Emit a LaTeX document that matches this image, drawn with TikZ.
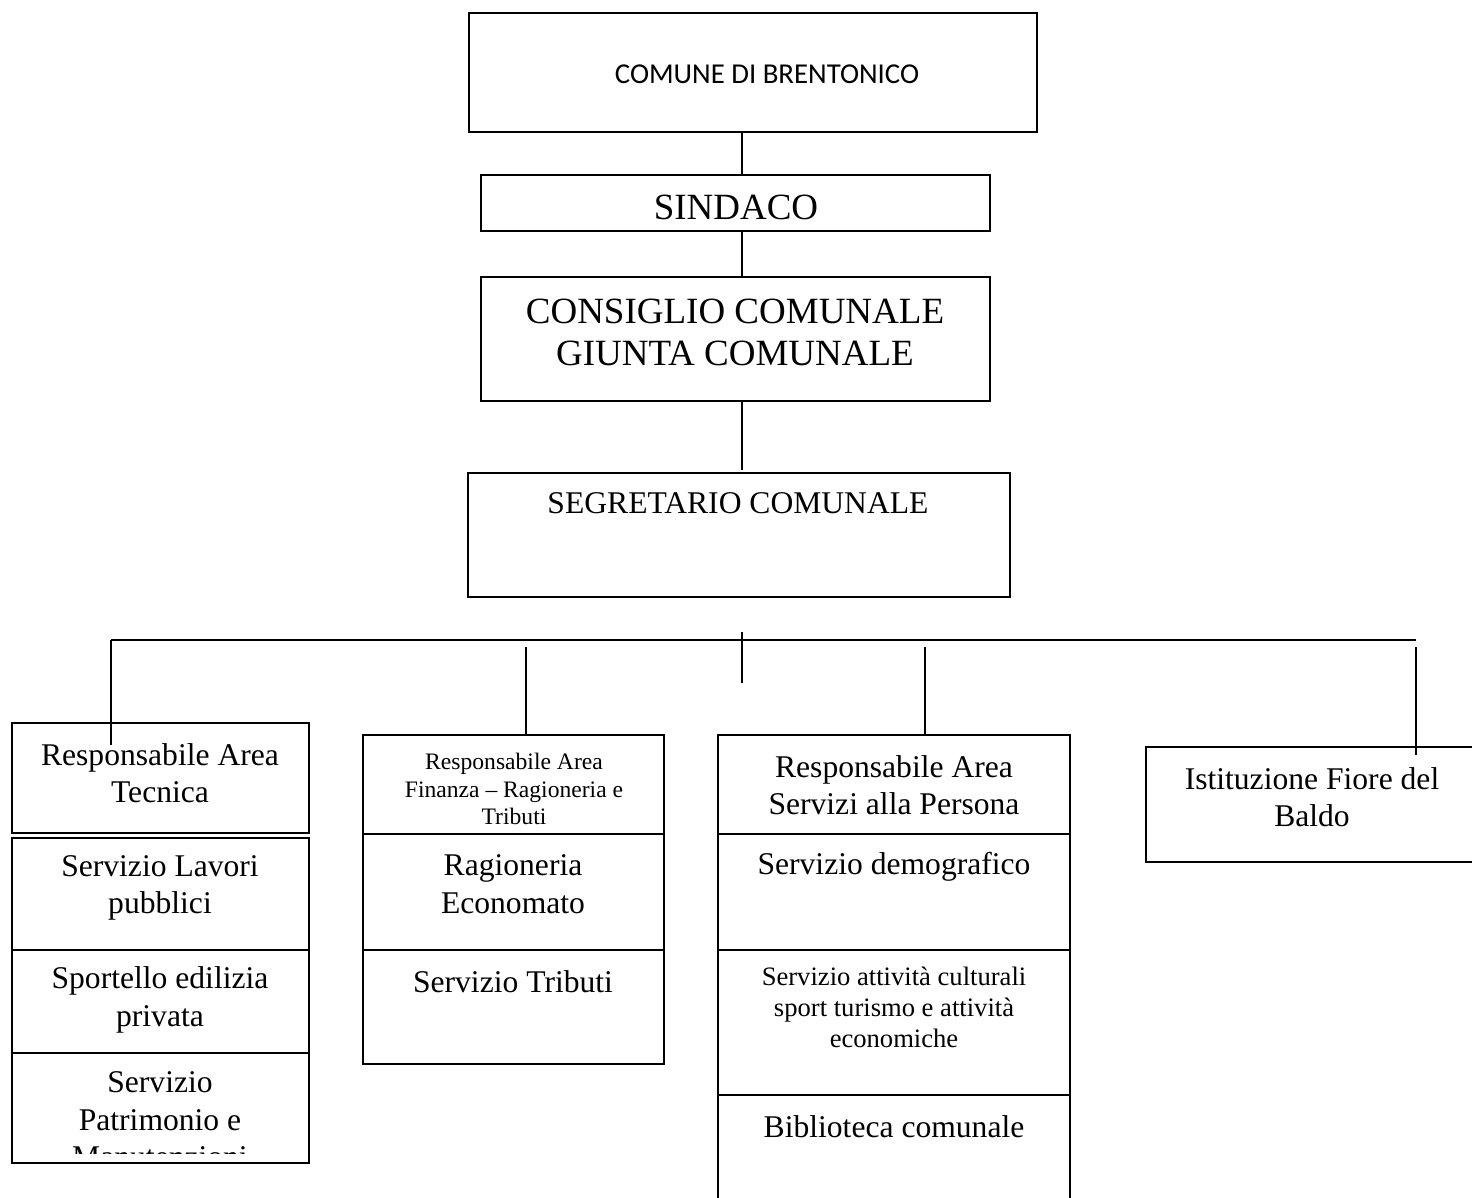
\documentclass[tikz,border=0pt]{standalone}
\usepackage{fontspec}
\setmainfont{Liberation Serif}
\newfontfamily\calib{Carlito}
\usetikzlibrary{fit}
\begin{document}
\begin{tikzpicture}[x=0.5pt,y=-0.5pt,
  box/.style={draw, line width=1pt, inner sep=0pt, outer sep=0pt},
  conn/.style={line width=0.8pt},
  txt/.style={align=center, inner sep=0pt},
  big/.style={font=\fontsize{18.5}{21}\selectfont},
  med/.style={font=\fontsize{15.8}{18.8}\selectfont},
  sml/.style={font=\fontsize{11.8}{13.8}\selectfont},
  mid/.style={font=\fontsize{13.3}{15.5}\selectfont}]
\useasboundingbox[fill=white] (0,0) rectangle (1472,1198);
\clip (0,0) rectangle (1472,1198);

% upper chain
\node[box, fit={(469,13) (1037,132)}] (top) {};
\node[txt, font=\calib\fontsize{14.4}{17}\selectfont] (toptxt) at (767,74) {COMUNE DI BRENTONICO};
\node[box, fit={(481,175) (990,231)}] (sind) {};
\node[txt, big] (sindtxt) at (736,207) {SINDACO};
\node[box, fit={(481,277) (990,401)}] (cons) {};
\node[txt, big] (constxt) at (735,332) {CONSIGLIO COMUNALE\\GIUNTA COMUNALE};
\node[box, fit={(468,473) (1010,597)}] (segr) {};
\node[txt, med] (segrtxt) at (738,503) {SEGRETARIO COMUNALE};

\coordinate (trunk) at (742,0);
\draw[conn] (top.south -| trunk) -- (sind.north -| trunk);
\draw[conn] (sind.south -| trunk) -- (cons.north -| trunk);
\draw[conn] (cons.south -| trunk) -- ([yshift=1.5pt]segr.north -| trunk);

% bus
\coordinate (busL) at (111,640);
\coordinate (busR) at (1416,640);
\coordinate (tickT) at (742,632);
\coordinate (tickB) at (742,683);
\draw[conn] (busL) -- (busR);
\draw[conn] (tickT) -- (tickB);

% column 1
\node[box, fit={(12,723) (309,833)}] (c1a) {};
\node[txt, med] (c1atxt) at (160,773) {Responsabile Area\\Tecnica};
\node[box, fit={(12,838) (309,950)}] (c1b) {};
\node[txt, med] (c1btxt) at (160,888) {Servizio Lavori\\pubblici};
\node[box, fit={(12,950) (309,1053)}] (c1c) {};
\node[txt, med] (c1ctxt) at (160,1000) {Sportello edilizia\\privata};
\node[box, fit={(12,1053) (309,1163)}] (c1d) {};
\begin{scope}
\clip (12,1053) rectangle (309,1153);
\node[txt, med] (c1dtxt) at (160,1120) {Servizio\\Patrimonio e\\Manutenzioni};
\end{scope}
\coordinate (c1end) at (111,745);
\draw[conn] (busL) -- (c1end);

% column 2
\node[box, fit={(363,735) (664,834)}] (c2a) {};
\node[txt, sml] (c2atxt) at (514,789) {Responsabile Area\\Finanza -- Ragioneria e\\Tributi};
\node[box, fit={(363,834) (664,950)}] (c2b) {};
\node[txt, med] (c2btxt) at (513,884) {Ragioneria\\Economato};
\node[box, fit={(363,950) (664,1064)}] (c2c) {};
\node[txt, med] (c2ctxt) at (513,982) {Servizio Tributi};
\coordinate (c2top) at (526,647);
\draw[conn] (c2top) -- (c2a.north -| c2top);

% column 3
\node[box, fit={(718,735) (1070,834)}] (c3a) {};
\node[txt, med] (c3atxt) at (894,785) {Responsabile Area\\Servizi alla Persona};
\node[box, fit={(718,834) (1070,950)}] (c3b) {};
\node[txt, med] (c3btxt) at (894,867) {Servizio demografico};
\node[box, fit={(718,950) (1070,1095)}] (c3c) {};
\node[txt, mid] (c3ctxt) at (894,1007) {Servizio attività culturali\\sport turismo e attività\\economiche};
\node[box, fit={(718,1095) (1070,1215)}] (c3d) {};
\node[txt, med] (c3dtxt) at (894,1127) {Biblioteca comunale};
\coordinate (c3top) at (925,647);
\draw[conn] (c3top) -- (c3a.north -| c3top);

% column 4
\node[box, fit={(1146,747) (1490,862)}] (c4a) {};
\node[txt, med] (c4atxt) at (1312,797) {Istituzione Fiore del\\Baldo};
\coordinate (c4top) at (1416,647);
\coordinate (c4end) at (1416,755);
\draw[conn] (c4top) -- (c4end);
\end{tikzpicture}
\end{document}
